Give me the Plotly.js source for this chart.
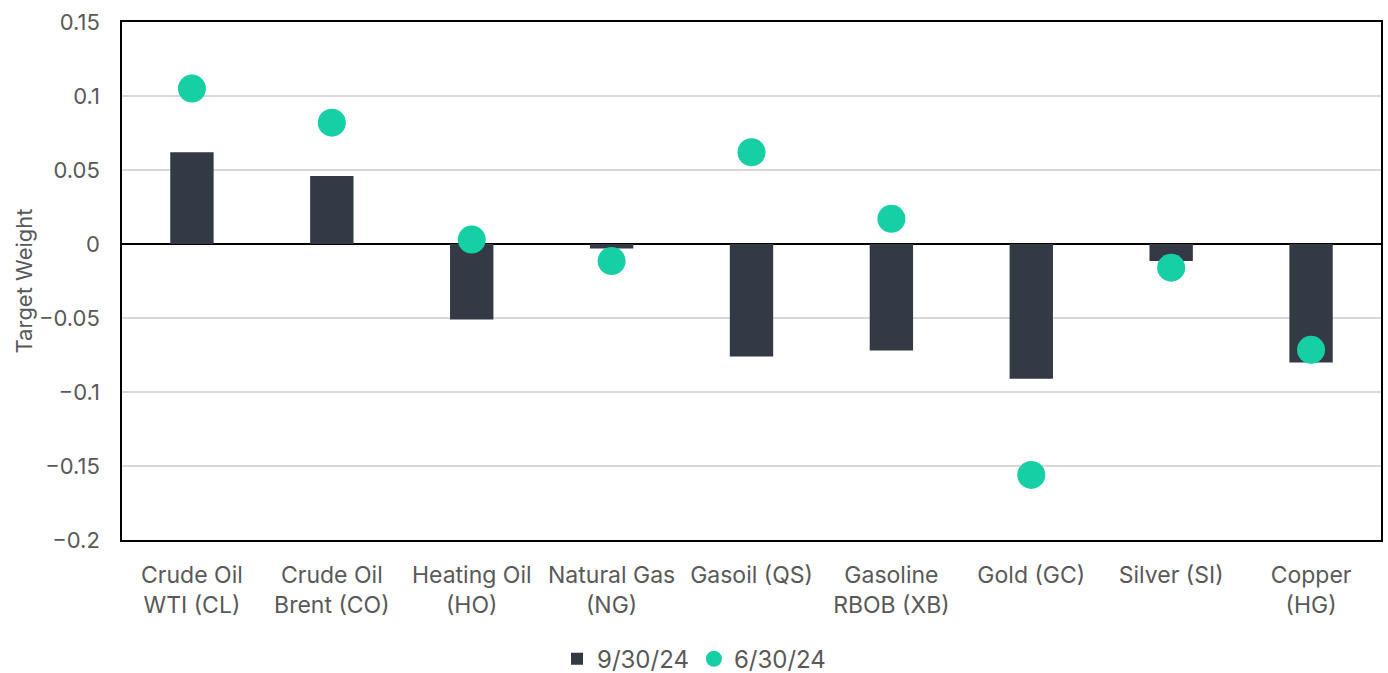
<!DOCTYPE html>
<html>
<head>
<meta charset="utf-8">
<script src="https://cdn.plot.ly/plotly-3.0.1.min.js"></script>
<style>
  html, body { margin: 0; padding: 0; background: #ffffff; }
  #chart { width: 1388px; height: 673px; }
</style>
</head>
<body>
<div id="chart"></div>
<script>
// Commodity target weights at two rebalance dates
const categories = [
  "Crude Oil<br>WTI (CL)",
  "Crude Oil<br>Brent (CO)",
  "Heating Oil<br>(HO)",
  "Natural Gas<br>(NG)",
  "Gasoil (QS)",
  "Gasoline<br>RBOB (XB)",
  "Gold (GC)",
  "Silver (SI)",
  "Copper<br>(HG)"
];
const weightsSep24 = [0.062, 0.046, -0.051, -0.003, -0.076, -0.072, -0.091, -0.0115, -0.080];
const weightsJun24 = [0.105, 0.082, 0.003, -0.0115, 0.062, 0.017, -0.156, -0.016, -0.0715];
const seriesNames = ["9/30/24", "6/30/24"];
const yTicks = [0.15, 0.1, 0.05, 0, -0.05, -0.1, -0.15, -0.2];

const textColor = "#595959";
const fontFamily = "Inter, 'Noto Sans', sans-serif";

const traces = [
  {
    type: "bar",
    name: seriesNames[0],
    x: categories,
    y: weightsSep24,
    width: 0.31,
    marker: { color: "#333a45" },
    hoverinfo: "x+y"
  },
  {
    type: "scatter",
    mode: "markers",
    name: seriesNames[1],
    x: categories,
    y: weightsJun24,
    marker: { color: "#16cfa4", size: 28 },
    hoverinfo: "x+y"
  }
];

const layout = {
  width: 1388,
  height: 673,
  margin: { l: 122, r: 7, t: 22, b: 133, autoexpand: false },
  paper_bgcolor: "#ffffff",
  plot_bgcolor: "#ffffff",
  font: { family: fontFamily, color: textColor, size: 20 },
  showlegend: true,
  legend: {
    orientation: "h",
    xref: "container",
    x: 0.5,
    xanchor: "center",
    y: -0.23,
    yanchor: "middle",
    font: { size: 24, color: textColor },
    itemwidth: 30,
    tracegroupgap: 0
  },
  xaxis: {
    type: "category",
    range: [-0.5, categories.length - 0.5],
    showgrid: false,
    showline: true,
    linecolor: "#000000",
    linewidth: 1.5,
    mirror: true,
    ticks: "",
    tickfont: { size: 23, color: textColor },
    ticklabelstandoff: 14
  },
  yaxis: {
    range: [-0.2, 0.15],
    tickvals: yTicks,
    ticktext: yTicks.map(v => v < 0 ? "\u2212" + String(-v) : String(v)),
    showgrid: true,
    gridcolor: "#d9d9d9",
    gridwidth: 1.5,
    zeroline: true,
    zerolinecolor: "#000000",
    zerolinewidth: 1.5,
    showline: true,
    linecolor: "#000000",
    linewidth: 1.5,
    mirror: true,
    ticks: "",
    tickfont: { size: 22, color: textColor },
    ticklabelstandoff: 16,
    title: {
      text: "Target Weight",
      font: { size: 22, color: textColor },
      standoff: 0
    }
  }
};

Plotly.newPlot("chart", traces, layout, { displayModeBar: false, responsive: false });
</script>
</body>
</html>
